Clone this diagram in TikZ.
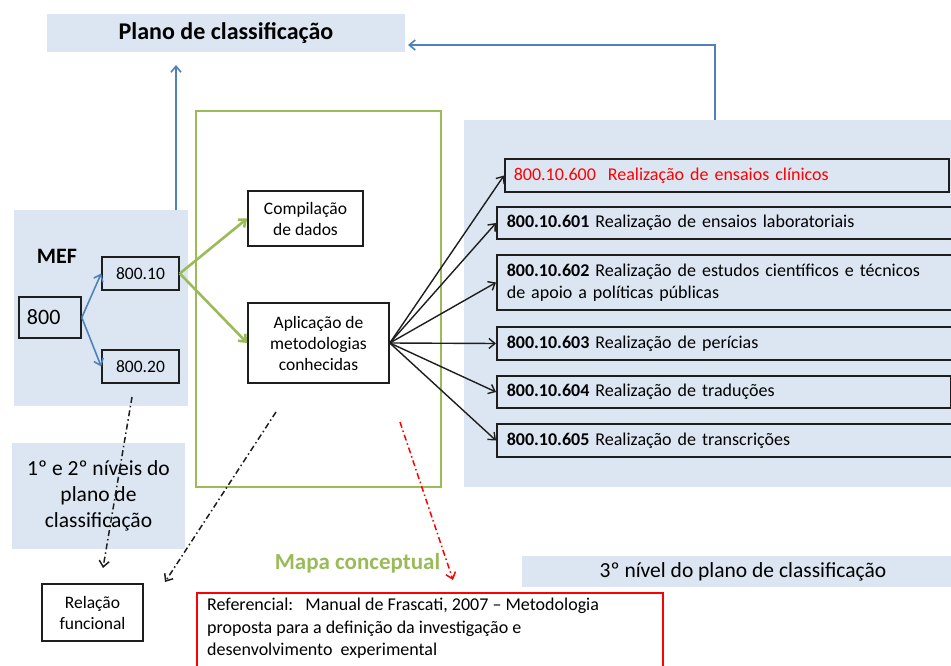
\documentclass[tikz,border=0pt]{standalone}
\usepackage{fontspec}
\setmainfont{Carlito}
\usetikzlibrary{arrows.meta}
\definecolor{lb}{RGB}{220,230,242}
\definecolor{gr}{RGB}{155,187,89}
\definecolor{bl}{RGB}{79,129,189}
\definecolor{dk}{RGB}{30,30,30}
\tikzset{
 panel/.style={fill=lb,draw=none,inner sep=0pt},
 bx/.style={draw=dk,line width=1.6pt,inner sep=0pt,align=center,font=\fontsize{17.5}{21}\selectfont},
 lst/.style={draw=dk,line width=1.6pt,inner xsep=10pt,inner ysep=0pt,align=left,anchor=west,font=\fontsize{18}{22}\selectfont},
 tip/.style={-{Straight Barb[length=6pt,width=10pt]}},
 blarr/.style={tip,draw=bl,line width=1.6pt},
 grarr/.style={tip,draw=gr,line width=2.6pt},
 kar/.style={tip,draw=dk,line width=1.4pt},
 dd/.style={tip,line width=1.5pt,dash pattern=on 6pt off 3pt on 1.5pt off 3pt},
}
\begin{document}
\begin{tikzpicture}[x=1pt,y=-1pt]
\useasboundingbox (0,0) rectangle (951,666);
\fill[white] (0,0) rectangle (951,666);
% panels
\node[panel,minimum width=358pt,minimum height=38pt,font=\bfseries\fontsize{24}{28}\selectfont] (plano) at (226,33) {Plano de classificação};
\node[panel,minimum width=174pt,minimum height=196pt] (mef) at (101,308) {};
\node[panel,minimum width=500pt,minimum height=367pt] (rp) at (714,303.5) {};
\node[panel,minimum width=173pt,minimum height=106pt,align=center,font=\fontsize{21.5}{26}\selectfont] (lv1) at (98.5,496) {1º e 2º níveis do\\plano de\\classificação};
\node[panel,minimum width=442pt,minimum height=31pt,font=\fontsize{21.5}{26}\selectfont] (lv3) at (743,571.5) {3º nível do plano de classificação};
% green box
\node[draw=gr,line width=1.4pt,minimum width=245pt,minimum height=376pt,inner sep=0pt] (gb) at (318.5,299) {};
% MEF content
\node[font=\bfseries\fontsize{22}{26}\selectfont] (meft) at (57,256) {MEF};
\node[bx,minimum height=41pt,text width=46pt,align=left,inner xsep=8pt,font=\fontsize{22}{26}\selectfont] (b800) at (50,317.5) {800};
\node[bx,minimum width=77pt,minimum height=33pt] (b10) at (140.5,273.5) {800.10};
\node[bx,minimum width=77pt,minimum height=33pt] (b20) at (140.5,366.5) {800.20};
% concept boxes
\node[bx,minimum width=115pt,minimum height=55pt] (comp) at (305.5,218.5) {Compilação\\de dados};
\node[bx,minimum width=141pt,minimum height=80pt] (apl) at (318.5,343) {Aplicação de\\metodologias\\conhecidas};
% list
\node[lst,text width=426pt,inner xsep=9pt,minimum height=33pt,text=red] (l0) at (504,175.5) {800.10.600\ \ Realização de ensaios clínicos};
\node[lst,text width=440pt,minimum height=32pt] (l1) at (496,223) {\textbf{800.10.601} Realização de ensaios laboratoriais};
\node[lst,text width=440pt,minimum height=55pt] (l2) at (496,282.5) {\textbf{800.10.602} Realização de estudos científicos e técnicos\\de apoio a políticas públicas};
\node[lst,text width=440pt,minimum height=33pt] (l3) at (496,343.5) {\textbf{800.10.603} Realização de perícias};
\node[lst,text width=434pt,minimum height=32pt] (l4) at (496,392) {\textbf{800.10.604} Realização de traduções};
\node[lst,text width=440pt,minimum height=33pt] (l5) at (496,440.5) {\textbf{800.10.605} Realização de transcrições};
% bottom
\node[bx,minimum width=101pt,minimum height=57pt] (rel) at (92.5,612.5) {Relação\\funcional};
\node[text=gr,font=\bfseries\fontsize{23}{27}\selectfont] (mapa) at (357.5,563) {Mapa conceptual};
\node[draw=red,line width=1.5pt,minimum width=466pt,minimum height=90pt,anchor=north west,inner sep=0pt] (ref) at (196,592) {};
\node[anchor=north west,inner sep=0pt,align=left,font=\fontsize{18}{22.5}\selectfont] (reft) at (207,598) {Referencial:\ \ \ Manual de Frascati, 2007 – Metodologia\\proposta para a definição da investigação e\\desenvolvimento\ \ experimental};
% connectors
\draw[blarr] (b800.east) -- (b10.west);
\draw[blarr] (b800.east) -- (b20.west);
\coordinate (u1) at (176,65);
\draw[blarr] (mef.north -| u1) -- (u1);
\coordinate (u2) at (408,45);
\coordinate (u3) at (715,0);
\draw[blarr] (rp.north -| u3) |- (u2);
\draw[grarr] (b10.east) -- (comp.west);
\draw[grarr] (b10.east) -- (apl.west);
\foreach \t in {l0,l1,l2,l3,l4,l5} \draw[kar] (apl.east) -- (\t.west);
\coordinate (d1s) at (132,397); \coordinate (d1e) at (103,568);
\coordinate (d2s) at (276,412); \coordinate (d2e) at (165,582);
\coordinate (d3s) at (400,422); \coordinate (d3e) at (453,580);
\draw[dd,draw=dk] (d1s) -- (d1e);
\draw[dd,draw=dk] (d2s) -- (d2e);
\draw[dd,draw=red] (d3s) -- (d3e);
\end{tikzpicture}
\end{document}
